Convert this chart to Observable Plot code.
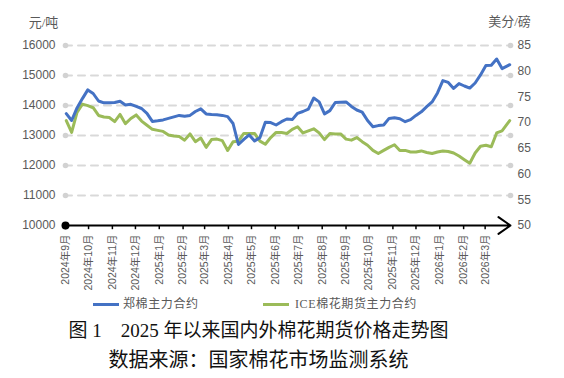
<!DOCTYPE html>
<html><head><meta charset="utf-8">
<script src="https://cdn.jsdelivr.net/npm/d3@7"></script>
<script src="https://cdn.jsdelivr.net/npm/@observablehq/plot@0.6"></script>
<style>
body{margin:0;background:#fff;width:564px;height:378px;position:relative;overflow:hidden;font-family:"Liberation Sans",Arial,"Noto Sans CJK SC",sans-serif;}
#chart{position:absolute;left:0;top:0;}
.legline{position:absolute;height:3px;top:302.5px;width:26px;}
.legtext{position:absolute;top:296px;font-size:12px;line-height:16px;color:#595959;font-family:"Liberation Serif","Noto Sans CJK SC",serif;white-space:nowrap;letter-spacing:0.6px;}
#title{position:absolute;left:0;width:517px;top:319px;text-align:center;font-size:19px;line-height:24px;color:#111;font-family:"Liberation Serif","Noto Sans CJK SC",serif;white-space:nowrap;}
#source{position:absolute;left:0;width:517px;top:348px;text-align:center;font-size:20px;line-height:24px;color:#111;font-family:"Liberation Serif","Noto Sans CJK SC",serif;white-space:nowrap;}
</style></head><body>
<div id="chart"></div>
<div id="legend"></div>
<div id="title"></div>
<div id="source"></div>
<script>
const dates = ["2024-09-02","2024-09-09","2024-09-16","2024-09-23","2024-09-30","2024-10-07","2024-10-14","2024-10-21","2024-10-28","2024-11-04","2024-11-11","2024-11-18","2024-11-25","2024-12-02","2024-12-09","2024-12-16","2024-12-23","2024-12-30","2025-01-06","2025-01-13","2025-01-20","2025-01-27","2025-02-03","2025-02-10","2025-02-17","2025-02-24","2025-03-03","2025-03-10","2025-03-17","2025-03-24","2025-03-31","2025-04-07","2025-04-14","2025-04-21","2025-04-28","2025-05-05","2025-05-12","2025-05-19","2025-05-26","2025-06-02","2025-06-09","2025-06-16","2025-06-23","2025-06-30","2025-07-07","2025-07-14","2025-07-21","2025-07-28","2025-08-04","2025-08-11","2025-08-18","2025-08-25","2025-09-01","2025-09-08","2025-09-15","2025-09-22","2025-09-29","2025-10-06","2025-10-13","2025-10-20","2025-10-27","2025-11-03","2025-11-10","2025-11-17","2025-11-24","2025-12-01","2025-12-08","2025-12-15","2025-12-22","2025-12-29","2026-01-05","2026-01-12","2026-01-19","2026-01-26","2026-02-02","2026-02-09","2026-02-16","2026-02-23","2026-03-02","2026-03-09","2026-03-16","2026-03-23","2026-03-30","2026-04-02"];
// 郑棉主力合约 (元/吨)
const zhengmian = [13730,13500,13920,14230,14520,14400,14150,14090,14090,14100,14140,14020,14040,13970,13900,13740,13470,13490,13520,13570,13620,13670,13640,13670,13800,13890,13720,13700,13690,13670,13630,13400,12700,12870,13020,12820,12930,13440,13430,13350,13460,13550,13530,13740,13800,13880,14250,14120,13720,13830,14100,14110,14120,13970,13850,13780,13500,13290,13330,13350,13570,13590,13560,13460,13530,13670,13790,13960,14120,14420,14830,14770,14570,14730,14650,14580,14750,15020,15330,15340,15550,15230,15320,15360];
// ICE棉花期货主力合约 (美分/磅)
const ice = [70.4,68.1,72.0,73.6,73.3,72.9,71.4,71.1,71.0,70.2,71.6,69.8,70.8,71.5,70.3,69.5,68.7,68.5,68.3,67.6,67.4,67.3,66.6,67.8,66.3,67.0,65.2,66.7,66.8,66.5,64.6,66.3,66.4,67.9,67.9,67.9,66.4,65.8,67.1,68.1,68.1,67.9,68.7,69.2,68.0,68.4,68.8,68.0,66.7,67.9,67.8,67.8,66.8,66.6,67.1,66.3,65.6,64.6,64.0,64.6,65.2,65.7,64.6,64.6,64.3,64.3,64.5,64.2,64.0,64.3,64.5,64.4,64.1,63.5,62.8,62.1,64.1,65.4,65.6,65.3,68.0,68.4,69.8,70.4];
const leftTicks = [10000,11000,12000,13000,14000,15000,16000];
const rightTicks = [50,55,60,65,70,75,80,85];
const monthStarts = ["2024-09-01","2024-10-01","2024-11-01","2024-12-01","2025-01-01","2025-02-01","2025-03-01","2025-04-01","2025-05-01","2025-06-01","2025-07-01","2025-08-01","2025-09-01","2025-10-01","2025-11-01","2025-12-01","2026-01-01","2026-02-01","2026-03-01"];
const monthLabels = ["2024年9月","2024年10月","2024年11月","2024年12月","2025年1月","2025年2月","2025年3月","2025年4月","2025年5月","2025年6月","2025年7月","2025年8月","2025年9月","2025年10月","2025年11月","2025年12月","2026年1月","2026年2月","2026年3月"];
const seriesNames = ["郑棉主力合约","ICE棉花期货主力合约"];
const seriesColors = ["#4472C4","#9BBB59"];
const leftUnit = "元/吨";
const rightUnit = "美分/磅";
const titleText = "图 1\u30002025 年以来国内外棉花期货价格走势图";
const sourceText = "数据来源：国家棉花市场监测系统";

const xStart = new Date("2024-09-01"), xEnd = new Date("2026-04-03");
const L0 = 10000, L1 = 16000, R0 = 50, R1 = 85;
const toLeft = v => L0 + (v - R0) * (L1 - L0) / (R1 - R0);

const blueData = dates.map((d, i) => ({date: new Date(d), v: zhengmian[i]}));
const greenData = dates.map((d, i) => ({date: new Date(d), v: toLeft(ice[i])}));
const months = monthStarts.map((d, i) => ({date: new Date(d), label: monthLabels[i]}));
const grid = leftTicks.filter(t => t > L0);

const gray = "#595959";
const serif = '"Liberation Serif","Noto Sans CJK SC",serif';
const chart = Plot.plot({
  width: 564, height: 292,
  marginLeft: 65, marginRight: 54, marginTop: 45, marginBottom: 67,
  style: {fontFamily: '"Liberation Sans", Arial, "Noto Sans CJK SC", sans-serif', background: "#fff"},
  x: {type: "utc", domain: [xStart, xEnd], axis: null},
  y: {domain: [L0, L1], axis: null},
  marks: [
    Plot.ruleY(grid, {x1: xStart, x2: xEnd, y: d => d, stroke: "#d9d9d9", strokeWidth: 2, strokeDasharray: "7,6", strokeLinecap: "round"}),
    Plot.dot(grid, {x: xStart, y: d => d, r: 2.8, fill: "#d2d2d2", stroke: null}),
    Plot.dot(grid, {x: xEnd, y: d => d, r: 2.8, fill: "#d2d2d2", stroke: null}),
    Plot.text(leftTicks, {x: xStart, y: d => d, text: d => String(d), textAnchor: "end", dx: -10, fontSize: 12, fill: gray}),
    Plot.text(rightTicks, {x: xEnd, y: d => toLeft(d), text: d => String(d), textAnchor: "start", dx: 7, fontSize: 12, fill: gray}),
    Plot.text([leftUnit], {x: xStart, y: L1, text: d => d, dx: -22, dy: -23, fontSize: 13, fill: gray, fontFamily: serif}),
    Plot.text([rightUnit], {x: xEnd, y: L1, text: d => d, dx: -1, dy: -24, fontSize: 13, fill: gray, fontFamily: serif}),
    Plot.ruleX(months, {x: "date", y1: L0, y2: L0 - 140, stroke: "#000", strokeWidth: 1.5}),
    Plot.arrow([0], {x1: xStart, x2: xEnd, y1: L0, y2: L0, stroke: "#000", strokeWidth: 2, headLength: 11, headAngle: 70}),
    Plot.dot([0], {x: xStart, y: L0, r: 4, fill: "#000", stroke: null}),
    Plot.text(months, {x: "date", y: L0, text: "label", rotate: -90, textAnchor: "end", dy: 9, fontSize: 10.5, fill: gray}),
    Plot.line(greenData, {x: "date", y: "v", stroke: seriesColors[1], strokeWidth: 3, strokeLinejoin: "round"}),
    Plot.line(blueData, {x: "date", y: "v", stroke: seriesColors[0], strokeWidth: 3, strokeLinejoin: "round"})
  ]
});
document.getElementById("chart").append(chart);

const leg = document.getElementById("legend");
const legPos = [[93, 123], [263, 295]];
seriesNames.forEach((n, i) => {
  const ln = document.createElement("div");
  ln.className = "legline"; ln.style.left = legPos[i][0] + "px"; ln.style.background = seriesColors[i];
  const tx = document.createElement("div");
  tx.className = "legtext"; tx.style.left = legPos[i][1] + "px"; tx.textContent = n;
  leg.append(ln, tx);
});
document.getElementById("title").textContent = titleText;
document.getElementById("source").textContent = sourceText;
</script>
</body></html>
